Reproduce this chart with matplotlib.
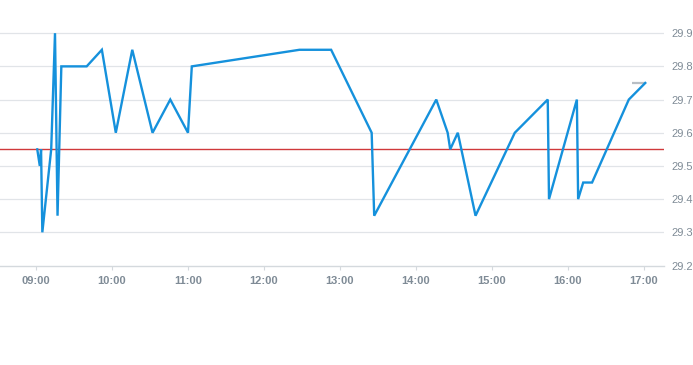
import matplotlib
matplotlib.use("Agg")
import matplotlib.pyplot as plt

plt.rcParams["font.family"] = ["Liberation Sans", "DejaVu Sans"]

times = ["09:01", "09:03", "09:04", "09:05", "09:12", "09:15", "09:17", "09:20",
         "09:40", "09:52", "10:03", "10:16", "10:32", "10:46", "11:00", "11:03",
         "12:28", "12:53", "13:25", "13:27", "14:16", "14:25", "14:27", "14:33",
         "14:47", "15:18", "15:44", "15:45", "16:07", "16:08", "16:12", "16:19",
         "16:48", "17:01"]
values = [29.55, 29.50, 29.55, 29.30, 29.55, 29.90, 29.35, 29.80,
          29.80, 29.85, 29.60, 29.85, 29.60, 29.70, 29.60, 29.80,
          29.85, 29.85, 29.60, 29.35, 29.70, 29.60, 29.55, 29.60,
          29.35, 29.60, 29.70, 29.40, 29.70, 29.40, 29.45, 29.45,
          29.70, 29.75]
ref_level = 29.55
last_value = 29.75
x_tick_labels = ["09:00", "10:00", "11:00", "12:00", "13:00", "14:00", "15:00", "16:00", "17:00"]
y_ticks = [29.2, 29.3, 29.4, 29.5, 29.6, 29.7, 29.8, 29.9]
y_tick_labels = ["29.2", "29.3", "29.4", "29.5", "29.6", "29.7", "29.8", "29.9"]


def to_hours(s):
    h, m = s.split(":")
    return int(h) + int(m) / 60.0


xs = [to_hours(t) for t in times]
xt = [to_hours(t) for t in x_tick_labels]

fig = plt.figure(figsize=(6.93, 3.65), dpi=100)
ax = fig.add_axes([0, (365 - 265.5) / 365, 664 / 693, 265.5 / 365])

grid_c = "#e1e4e8"
txt_c = "#7f8b96"

ax.set_xlim(9 - 36 / 76, 9 + 628 / 76)
ax.set_ylim(29.2, 30.0)

for y in y_ticks[1:]:
    ax.axhline(y, color=grid_c, lw=0.9, zorder=1)

ax.axhline(ref_level, color="#d0393b", lw=1.0, zorder=2)
ax.plot(xs, values, color="#1591dc", lw=1.7, zorder=3, solid_joinstyle="miter")
ax.hlines(last_value, xs[-1] - 13 / 76, xs[-1], color="#b8bec4", lw=1.6, zorder=2)

for s in ["top", "left", "right"]:
    ax.spines[s].set_visible(False)
ax.spines["bottom"].set_color("#d4d9dd")
ax.spines["bottom"].set_linewidth(1.0)

ax.set_xticks(xt)
ax.set_xticklabels(x_tick_labels)
ax.tick_params(axis="x", length=3, width=0.8, color="#d4d9dd", pad=4.5,
               labelsize=8, labelcolor=txt_c)
for lab in ax.get_xticklabels():
    lab.set_fontweight("bold")

ax.yaxis.tick_right()
ax.set_yticks(y_ticks)
ax.set_yticklabels(y_tick_labels)
ax.tick_params(axis="y", length=0, pad=5.2, labelsize=8, labelcolor=txt_c)

fig.savefig("out.png", dpi=100)
